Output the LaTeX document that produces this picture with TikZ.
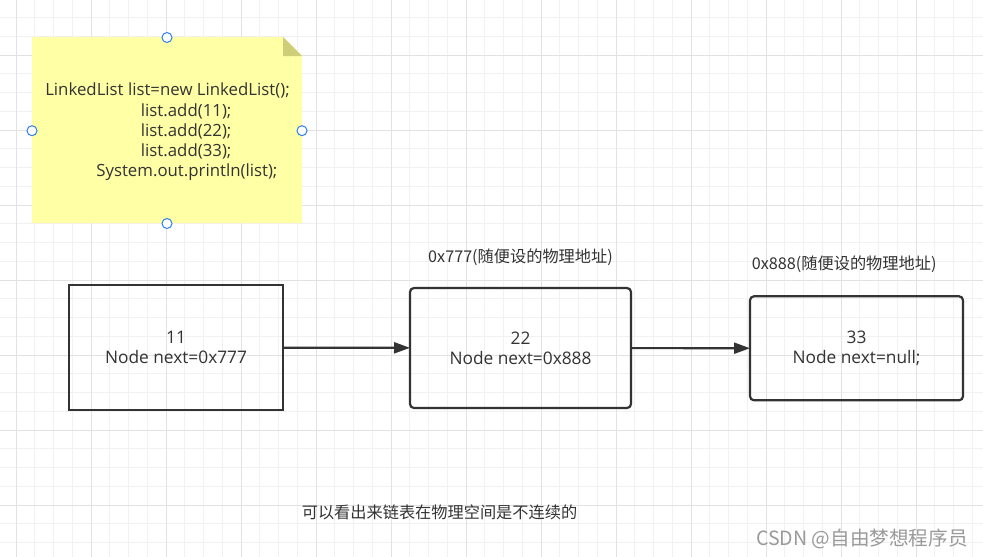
\documentclass[tikz,border=0pt]{standalone}
\usepackage{fontspec}
\setmainfont{Open Sans}
\newfontfamily\cjk{Noto Sans CJK SC}
\usetikzlibrary{arrows.meta}
\definecolor{txt}{HTML}{333333}
\definecolor{gridminor}{HTML}{F1F1F1}
\definecolor{gridmajor}{HTML}{E2E2E2}
\definecolor{notefill}{HTML}{FFFFA6}
\definecolor{notefold}{HTML}{CFCE78}
\definecolor{handleblue}{HTML}{2F80ED}
\definecolor{wm}{HTML}{9A9A9A}
\tikzset{
  minorline/.style={draw=gridminor, line width=1pt},
  majorline/.style={draw=gridmajor, line width=1pt},
  listbox/.style={draw=txt, line width=2.2pt, rectangle, inner sep=0pt, outer sep=0pt,
    text=txt, align=center, font=\fontsize{17.3}{20}\selectfont},
  notetext/.style={text=txt, inner sep=0pt, font=\fontsize{16.8}{19}\selectfont},
  lbl/.style={text=txt, inner sep=0pt, font=\cjk\fontsize{16.2}{19}\selectfont},
  handle/.style={circle, draw=handleblue, fill=white, line width=1pt, minimum size=10pt, inner sep=0pt},
  link/.style={draw=txt, line width=2.2pt, -{Triangle[length=16pt,width=11pt]}}
}
\begin{document}
\begin{tikzpicture}[x=1pt,y=-1pt]
\useasboundingbox (0,0) rectangle (983,557);
\fill[white] (0,0) rectangle (983,557);
% grid
\foreach \i in {0,...,53} {\draw[minorline] ({-2.75+18.75*\i},0) -- ({-2.75+18.75*\i},557);}
\foreach \i in {0,...,30} {\draw[minorline] (0,{-1.25+18.75*\i}) -- (983,{-1.25+18.75*\i});}
\foreach \k in {0,...,13} {\draw[majorline] ({16+75*\k},0) -- ({16+75*\k},557);}
\foreach \k in {0,...,6} {\draw[majorline] (0,{55+75*\k}) -- (983,{55+75*\k});}
% sticky note
\fill[notefill] (32,37) -- (283,37) -- (302,56) -- (302,223) -- (32,223) -- cycle;
\fill[notefold] (283,37) -- (302,56) -- (283,56) -- cycle;
\node[notetext] (c1) at (167.5,90.7) {LinkedList list=new LinkedList();};
\node[notetext] (c2) at (186.2,111) {list.add(11);};
\node[notetext] (c3) at (186.2,131.5) {list.add(22);};
\node[notetext] (c4) at (186.2,151.8) {list.add(33);};
\node[notetext] (c5) at (186.9,172.3) {System.out.println(list);};
\node[handle] (h1) at (167,37.5) {};
\node[handle] (h2) at (32,130.7) {};
\node[handle] (h3) at (302,130.7) {};
\node[handle] (h4) at (167,223.5) {};
% list nodes
\node[listbox, minimum width=214pt, minimum height=125pt] (b1) at (176,347.5) {11\\Node next=0x777};
\node[listbox, rounded corners=4pt, minimum width=221pt, minimum height=120pt] (b2) at (520.5,348) {22\\Node next=0x888};
\node[listbox, rounded corners=4pt, minimum width=213pt, minimum height=104pt] (b3) at (856.5,348.3) {33\\Node next=null;};
\draw[link] (b1) -- (b2);
\draw[link] (b2) -- (b3);
% labels
\node[lbl] (l2) at (520.5,257.3) {0x777(随便设的物理地址)};
\node[lbl] (l3) at (844.2,264) {0x888(随便设的物理地址)};
\node[lbl] (bottom) at (439.5,512.5) {可以看出来链表在物理空间是不连续的};
\node[text=wm, inner sep=0pt, font=\cjk\fontsize{19.6}{22}\selectfont] (wmk) at (862,538.5) {CSDN @自由梦想程序员};
\end{tikzpicture}
\end{document}
